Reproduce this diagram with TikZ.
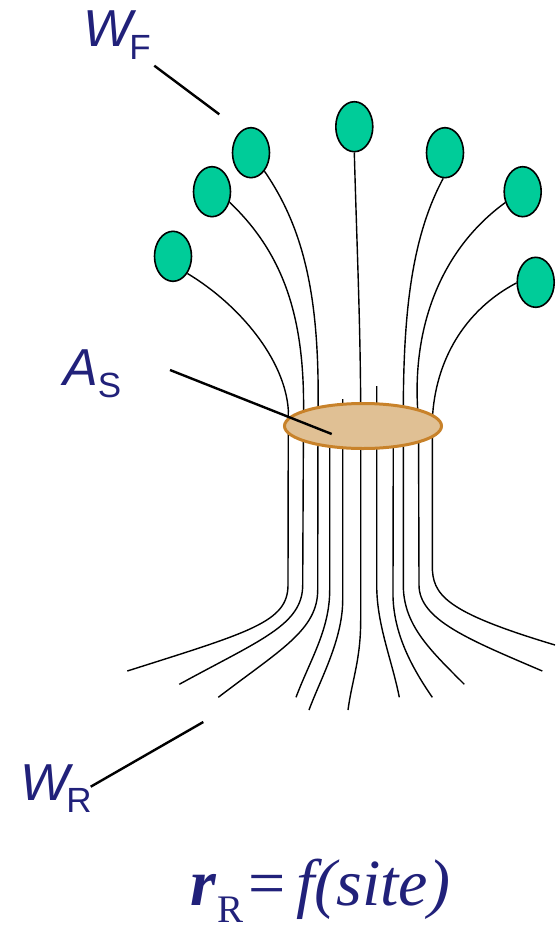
\documentclass[tikz,border=0pt]{standalone}
\usepackage{fontspec}
\setmainfont{Liberation Sans}
\newfontfamily\serifff{Liberation Serif}
\usetikzlibrary{shapes.geometric}
\definecolor{navy}{RGB}{33,33,122}
\definecolor{leaf}{RGB}{0,204,153}
\definecolor{discfill}{RGB}{224,192,148}
\definecolor{discedge}{RGB}{200,130,42}
\begin{document}
\begin{tikzpicture}[x=1pt,y=-1pt,
  oval/.style={ellipse, draw=black, line width=1.6pt, fill=leaf, minimum width=37pt, minimum height=50pt, inner sep=0pt},
  stem/.style={line width=1.4pt, black},
  pointer/.style={line width=2.4pt, black},
  lbl/.style={text=navy, inner sep=0pt, anchor=base west}]
\useasboundingbox (0,0) rectangle (559,926);

% leaves
\node[oval] (o1) at (173,256.3) {};
\node[oval] (o2) at (212,191.7) {};
\node[oval] (o3) at (251,152.7) {};
\node[oval] (o4) at (354.3,126.7) {};
\node[oval] (o5) at (445,152.7) {};
\node[oval] (o6) at (522.7,191.7) {};
\node[oval] (o7) at (535.7,282.3) {};

% stems / roots
\draw[stem] (o1.-50) .. controls (240,305) and (285,360) .. (288.3,410) -- (288,585) .. controls (288,622) and (250,632) .. (127.3,671);
\draw[stem] (o2.-31) .. controls (285,255) and (305,320) .. (303.5,415) -- (302.7,585) .. controls (302.7,625) and (260,640) .. (179.3,684.3);
\draw[stem] (o3.-54) .. controls (305,230) and (320,300) .. (318,415) -- (317.7,590) .. controls (317.7,630) and (280,650) .. (218.3,697.3);
\coordinate (r4) at (329.7,430);
\draw[stem] (r4) -- (329.7,590) .. controls (329.7,630) and (310,660) .. (296,697.3);
\coordinate (r5) at (342.7,399);
\draw[stem] (r5) -- (342.7,600) .. controls (342.7,640) and (320,680) .. (309,710);
\draw[stem] (o4.south) .. controls (357,250) and (360.7,330) .. (360.7,420) -- (360.7,620) .. controls (360.7,660) and (352,680) .. (348,710);
\coordinate (r7) at (376.7,386);
\draw[stem] (r7) -- (376.7,585) .. controls (376.7,625) and (392,660) .. (399.3,697.3);
\coordinate (r8) at (393.3,430);
\draw[stem] (r8) -- (393,590) .. controls (392,630) and (410,665) .. (432.3,697.3);
\draw[stem] (o5.-94) .. controls (410,240) and (403,320) .. (403.3,420) -- (403.3,585) .. controls (403.3,625) and (430,650) .. (464.3,684.3);
\draw[stem] (o6.-148) .. controls (440,250) and (410,330) .. (418.5,420) -- (419,585) .. controls (419,620) and (470,640) .. (542.3,671);
\draw[stem] (o7.182) .. controls (465,310) and (435,360) .. (432.3,420) -- (432.3,565) .. controls (432,595) and (445,612) .. (555,645);

% disc
\node[ellipse, draw=discedge, fill=discfill, line width=3pt, minimum width=157pt, minimum height=45pt, inner sep=0pt] (disc) at (363,426) {};

% labels
\node[lbl] (wf) at (83,46.7) {\fontsize{52}{52}\selectfont\itshape W\kern-3pt\upshape\raisebox{-13pt}{\fontsize{35}{35}\selectfont F}};
\node[lbl] (as) at (63,385) {\fontsize{52}{52}\selectfont\itshape A\upshape\raisebox{-12pt}{\fontsize{35}{35}\selectfont S}};
\node[lbl] (wr) at (20,800) {\fontsize{52}{52}\selectfont\itshape W\kern-3pt\upshape\raisebox{-12pt}{\fontsize{35}{35}\selectfont R}};
\node[lbl, font=\serifff] (rr) at (190,905) {\fontsize{66}{66}\selectfont\bfseries\itshape r\kern2pt\mdseries\upshape\raisebox{-17pt}{\fontsize{39}{39}\selectfont R}\kern5pt=\kern10pt\itshape f(site)};

% pointers
\coordinate (wfA) at (154.3,65.7); \coordinate (wfB) at (219.3,114.3);
\draw[pointer] (wfA) -- (wfB);
\coordinate (asA) at (170,370); \coordinate (asB) at (331.7,434);
\draw[pointer] (asA) -- (asB);
\coordinate (wrA) at (90.7,786.7); \coordinate (wrB) at (203.3,722);
\draw[pointer] (wrA) -- (wrB);
\end{tikzpicture}
\end{document}
